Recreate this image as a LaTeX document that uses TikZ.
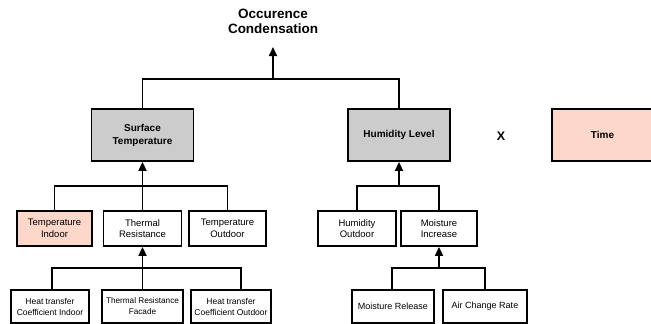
\documentclass[tikz,border=0pt]{standalone}
\usepackage{fontspec}
\setmainfont{Liberation Sans}
\usetikzlibrary{arrows.meta}
\definecolor{boxgray}{HTML}{CCCCCC}
\definecolor{boxpink}{HTML}{FCD7CA}
\begin{document}
\begin{tikzpicture}[x=1pt,y=-1pt,
  box/.style={draw=black,line width=1.8pt,rectangle,inner sep=0pt,align=center,font=\fontsize{9.5}{11.5}\selectfont},
  topbox/.style={box,fill=boxgray,minimum width=102pt,minimum height=52pt,font=\bfseries\fontsize{10}{13}\selectfont},
  midbox/.style={box,fill=white,minimum height=35pt},
  lowbox/.style={box,fill=white,minimum height=33pt,font=\fontsize{8.5}{11}\selectfont},
  conn/.style={line width=1.7pt},
  arr/.style={conn,-{Triangle[length=9pt,width=8pt]}}]
\useasboundingbox (0,0) rectangle (651,324);
% title
\node[font=\bfseries\fontsize{13.5}{15}\selectfont,align=center] (title) at (273,21) {Occurence\\Condensation};
\coordinate (tip) at (273,47);
\coordinate (j1) at (273,79);
% top row
\node[topbox] (surf) at (142.5,135) {Surface\\Temperature};
\node[topbox] (hum) at (399,135) {Humidity Level};
\node[font=\bfseries\fontsize{12.5}{15}\selectfont] (x) at (501,136) {X};
\node[topbox,fill=boxpink,minimum width=101pt] (time) at (602.5,135) {Time};
% middle row
\node[midbox,fill=boxpink,minimum width=75pt] (tin) at (54.5,228.5) {Temperature\\Indoor};
\node[midbox,minimum width=78pt] (tres) at (142.5,228.5) {Thermal\\Resistance};
\node[midbox,minimum width=77pt] (tout) at (227.5,228.5) {Temperature\\Outdoor};
\node[midbox,minimum width=78pt] (hout) at (357,228.5) {Humidity\\Outdoor};
\node[midbox,minimum width=76pt] (mi) at (439,228.5) {Moisture\\Increase};
% bottom row
\node[lowbox,minimum width=78pt] (hin) at (50,306.5) {Heat transfer\\Coefficient Indoor};
\node[lowbox,minimum width=81pt,font=\fontsize{8.2}{11}\selectfont] (trf) at (142.5,306.5) {Thermal Resistance\\Facade};
\node[lowbox,minimum width=80pt] (hout2) at (231,306.5) {Heat transfer\\Coefficient Outdoor};
\node[lowbox,minimum width=82pt,font=\fontsize{9}{11}\selectfont] (mr) at (393,306.5) {Moisture Release};
\node[lowbox,minimum width=84pt,font=\fontsize{9}{11}\selectfont] (acr) at (485,306.5) {Air Change Rate};
% junctions
\coordinate (j2) at (142.5,186);
\coordinate (j3) at (142.5,268);
\coordinate (j4) at (399,186);
\coordinate (j5) at (439,268);
% connectors
\draw[conn] (surf.north) |- (j1) -| (hum.north);
\draw[arr] (j1) -- (tip);
\draw[conn] (tin.north) |- (j2) -| (tout.north);
\draw[arr] (tres.north) -- (surf.south);
\draw[conn] ([xshift=2pt]hin.north) |- (j3) -| ([xshift=10pt]hout2.north);
\draw[arr] (trf.north) -- (tres.south);
\draw[conn] (hout.north) |- (j4) -| (mi.north);
\draw[arr] (j4) -- (hum.south);
\draw[conn] ([xshift=-1pt]mr.north) |- (j5) -| (acr.north);
\draw[arr] (j5) -- (mi.south);
\end{tikzpicture}
\end{document}
